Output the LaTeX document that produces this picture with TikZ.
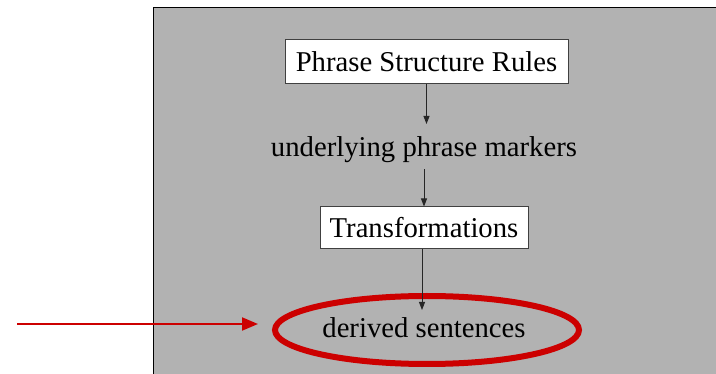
\documentclass[tikz,border=0pt]{standalone}
\usepackage{fontspec}
\setmainfont{Liberation Serif}
\usetikzlibrary{arrows.meta,shapes.geometric}
\definecolor{panelgray}{RGB}{178,178,178}
\definecolor{markred}{RGB}{204,0,0}
\begin{document}
\begin{tikzpicture}[x=1pt,y=-1pt,
  every node/.style={font=\fontsize{28.7}{34}\selectfont, text=black},
  rulebox/.style={draw=black!75, line width=1pt, fill=white, inner sep=0pt},
  label/.style={inner sep=0pt},
  flow/.style={draw=black!85, line width=0.9pt, -{Triangle[width=6pt,length=8pt]}},
  pointer/.style={draw=markred, line width=2pt, -{Triangle[width=13pt,length=16pt]}}]
  \useasboundingbox (0,0) rectangle (716,374);
  % grey panel
  \fill[panelgray] (153,8) rectangle (716,374);
  \draw[black, line width=1pt] (153,374) -- (153,8) -- (716,8);
  % steps
  \node[rulebox, minimum width=283pt, minimum height=44pt] (psr) at (426.5,62) {Phrase Structure Rules};
  \node[label] (upm) at (424,150) {underlying phrase markers};
  \node[rulebox, minimum width=208pt, minimum height=42pt] (tr) at (424,228) {Transformations};
  \node[label] (ds) at (424,328) {derived sentences};
  \node[draw=markred, line width=6pt, ellipse, minimum width=304pt, minimum height=68pt] (ring) at (427,330) {};
  % connectors
  \draw[flow] (psr.south) -- (psr.south |- 0,124);
  \draw[flow] (upm.south) ++(0,6) -- (tr.north);
  \draw[flow] ([xshift=-2pt]tr.south) -- ([xshift=-2pt]tr.south |- 0,310);
  \coordinate (src) at (17,324);
  \draw[pointer] (src) -- (258,324);
\end{tikzpicture}
\end{document}
